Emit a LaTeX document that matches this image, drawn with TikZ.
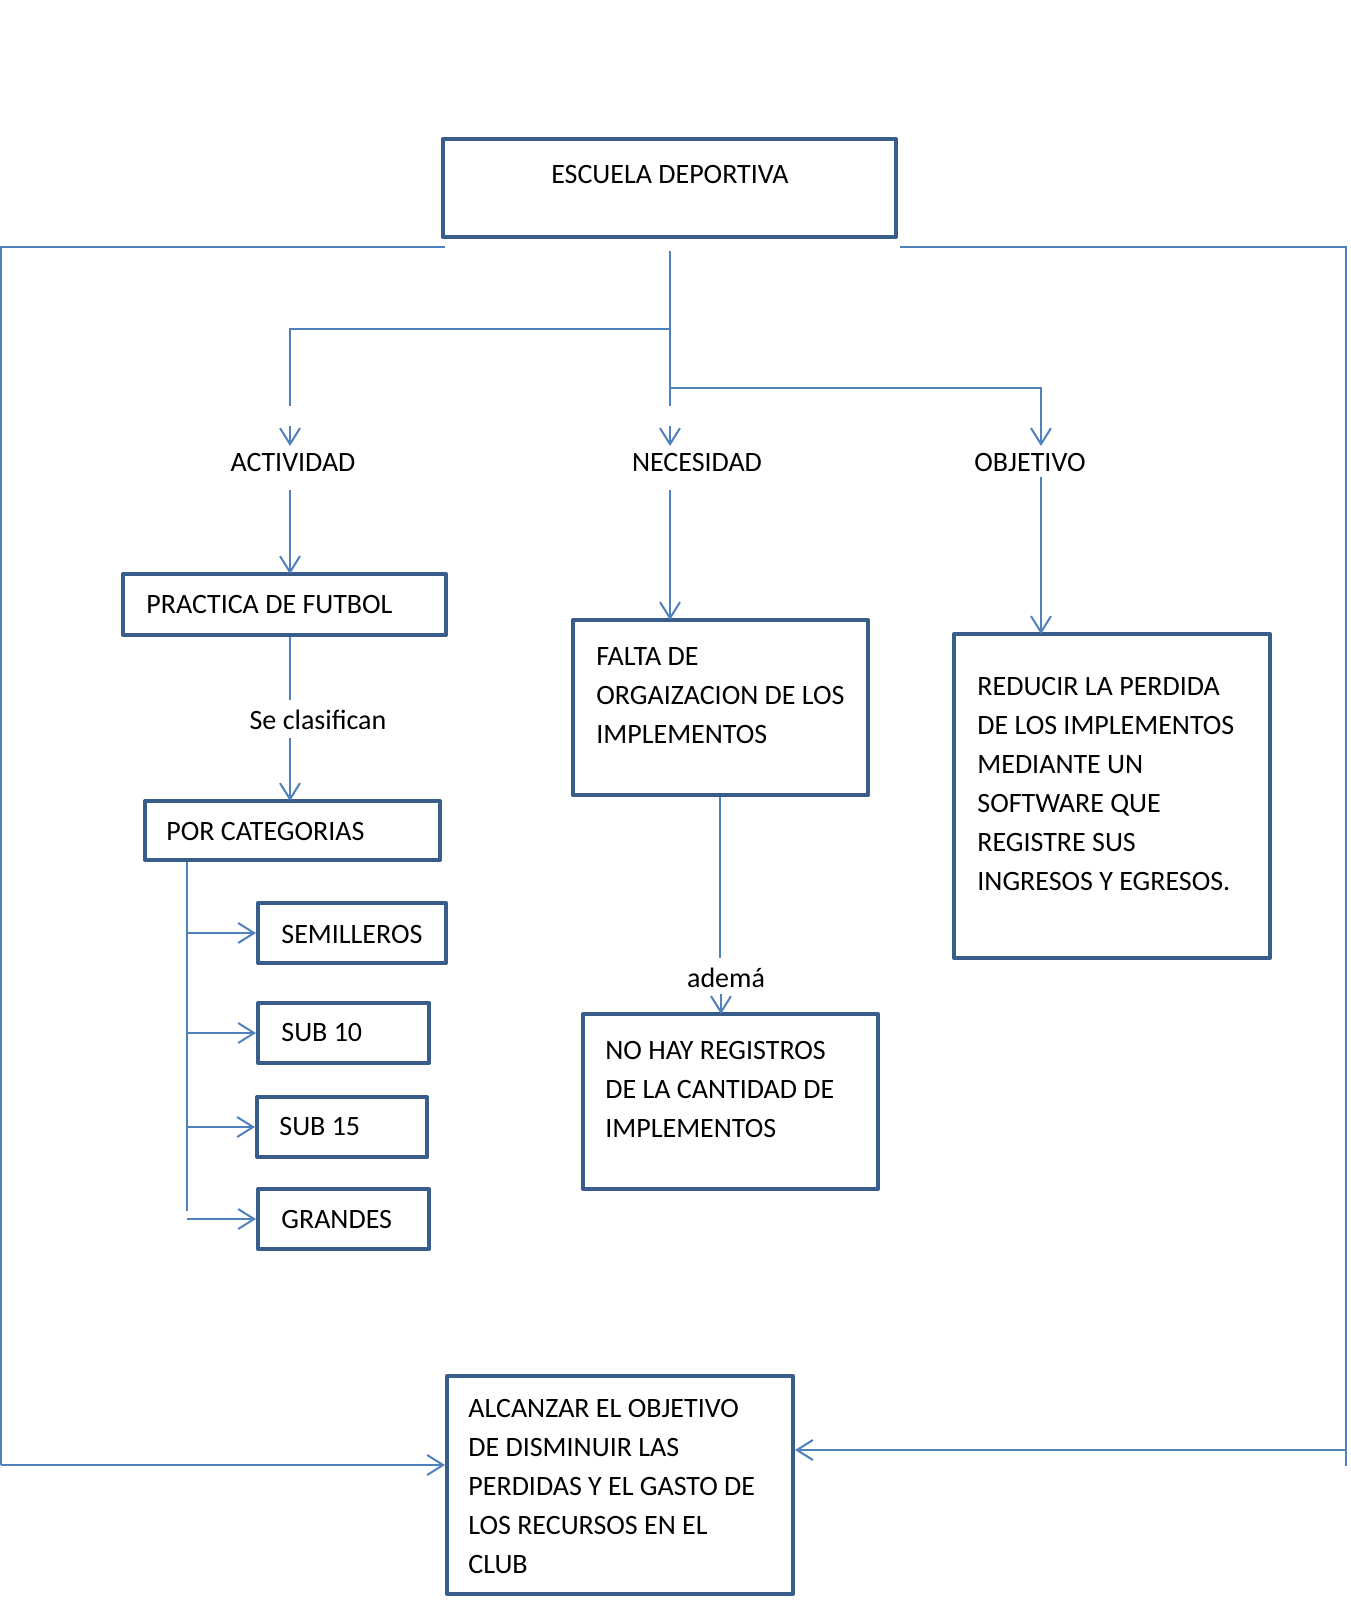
\documentclass[tikz,border=0pt]{standalone}
\usepackage{fontspec}
\setmainfont{Carlito}
\usetikzlibrary{arrows.meta,fit}
\definecolor{lineblue}{HTML}{4F81BD}
\definecolor{boxblue}{HTML}{385D8A}
\begin{document}
\begin{tikzpicture}[x=0.5pt,y=-0.5pt,
 box/.style={draw=boxblue,line width=2pt,inner sep=0pt,line join=round},
 txt/.style={inner sep=0pt,align=left,font=\fontsize{14}{19.5}\selectfont},
 conn/.style={draw=lineblue,line width=1pt},
 arr/.style={conn,-{Straight Barb[length=8pt,width=10pt,line width=1pt]}}]
\useasboundingbox (0,0) rectangle (1350,1600);

% boxes
\node[box,fit={(443,139) (896,237)}] (escuela) {};
\node[box,fit={(123,574) (446,635)}] (practica) {};
\node[box,fit={(145,801) (440,860)}] (categorias) {};
\node[box,fit={(258,903) (446,963)}] (semilleros) {};
\node[box,fit={(258,1003) (429,1063)}] (sub10) {};
\node[box,fit={(257,1097) (427,1157)}] (sub15) {};
\node[box,fit={(258,1189) (429,1249)}] (grandes) {};
\node[box,fit={(573,620) (868,795)}] (falta) {};
\node[box,fit={(583,1014) (878,1189)}] (nohay) {};
\node[box,fit={(954,634) (1270,958)}] (reducir) {};
\node[box,fit={(447,1376) (793,1594)}] (alcanzar) {};

% texts
\node[txt,anchor=center] (escuelaT) at (670,175) {ESCUELA DEPORTIVA};
\node[txt,anchor=center] (actT) at (293,463) {ACTIVIDAD};
\node[txt,anchor=center] (necT) at (697,463) {NECESIDAD};
\node[txt,anchor=center] (objT) at (1030,463) {OBJETIVO};
\node[txt,anchor=west] (practicaT) at (146,605) {PRACTICA DE FUTBOL};
\node[txt,anchor=center] (seT) at (318,720) {Se clasifican};
\node[txt,anchor=west] (categoriasT) at (166,832) {POR CATEGORIAS};
\node[txt,anchor=west] (semillerosT) at (281,934) {SEMILLEROS};
\node[txt,anchor=west] (sub10T) at (281,1033) {SUB 10};
\node[txt,anchor=west] (sub15T) at (279,1127) {SUB 15};
\node[txt,anchor=west] (grandesT) at (281,1219) {GRANDES};
\node[txt,anchor=north west] (faltaT) at (596,647) {FALTA DE\\ORGAIZACION DE LOS\\IMPLEMENTOS};
\node[txt,anchor=center] (ademaT) at (726,978) {ademá};
\node[txt,anchor=north west] (nohayT) at (605,1041) {NO HAY REGISTROS\\DE LA CANTIDAD DE\\IMPLEMENTOS};
\node[txt,anchor=north west] (reducirT) at (977,677) {REDUCIR LA PERDIDA\\DE LOS IMPLEMENTOS\\MEDIANTE UN\\SOFTWARE QUE\\REGISTRE SUS\\INGRESOS Y EGRESOS.};
\node[txt,anchor=north west] (alcanzarT) at (468,1399) {ALCANZAR EL OBJETIVO\\DE DISMINUIR LAS\\PERDIDAS Y EL GASTO DE\\LOS RECURSOS EN EL\\CLUB};

% coordinates
\coordinate (c0) at (670,251);
\coordinate (cL) at (670,329);
\coordinate (cR) at (670,388);
\coordinate (aL1) at (290,329);
\coordinate (aL2) at (290,406);
\coordinate (aL3) at (290,426);
\coordinate (aL4) at (290,446);
\coordinate (aC2) at (670,406);
\coordinate (aC3) at (670,426);
\coordinate (aC4) at (670,446);
\coordinate (aR1) at (1041,388);
\coordinate (aR2) at (1041,446);
\coordinate (oL0) at (445,247);
\coordinate (oL1) at (1,247);
\coordinate (oL2) at (1,1465);
\coordinate (oR0) at (900,247);
\coordinate (oR1) at (1346,247);
\coordinate (oR2) at (1346,1466);
\coordinate (oR3) at (1346,1450);
\coordinate (tree0) at (187,1211);

% connectors top
\draw[conn] (c0) -- (cR);
\draw[conn] (cL) -- (aL1) -- (aL2);
\draw[arr] (aL3) -- (aL4);
\draw[conn] (cR) -- (aC2);
\draw[arr] (aC3) -- (aC4);
\draw[arr] (cR) -- (aR1) -- (aR2);

% outer frame
\draw[conn] (oL0) -- (oL1) -- (oL2);
\draw[arr] (oL2) -- (oL2 -| alcanzar.west);
\draw[conn] (oR0) -- (oR1) -- (oR2);
\draw[arr] (oR3) -- (oR3 -| alcanzar.east);

% actividad branch
\draw[arr] (290,490) -- (290,574);
\draw[conn] (practica.south -| 290,0) -- (290,700);
\draw[arr] (290,738) -- (290,801);

% categories tree
\draw[conn] (categorias.south -| tree0) -- (tree0);
\draw[arr] (semilleros.west -| tree0) -- (semilleros.west);
\draw[arr] (sub10.west -| tree0) -- (sub10.west);
\draw[arr] (sub15.west -| tree0) -- (sub15.west);
\draw[arr] (grandes.west -| tree0) -- (grandes.west);

% necesidad branch
\draw[arr] (670,490) -- (670,620);
\draw[conn] (falta.south -| 720,0) -- (720,958);
\draw[arr] (721,994) -- (721,1014);

% objetivo branch
\draw[arr] (1041,477) -- (1041,634);
\end{tikzpicture}
\end{document}
